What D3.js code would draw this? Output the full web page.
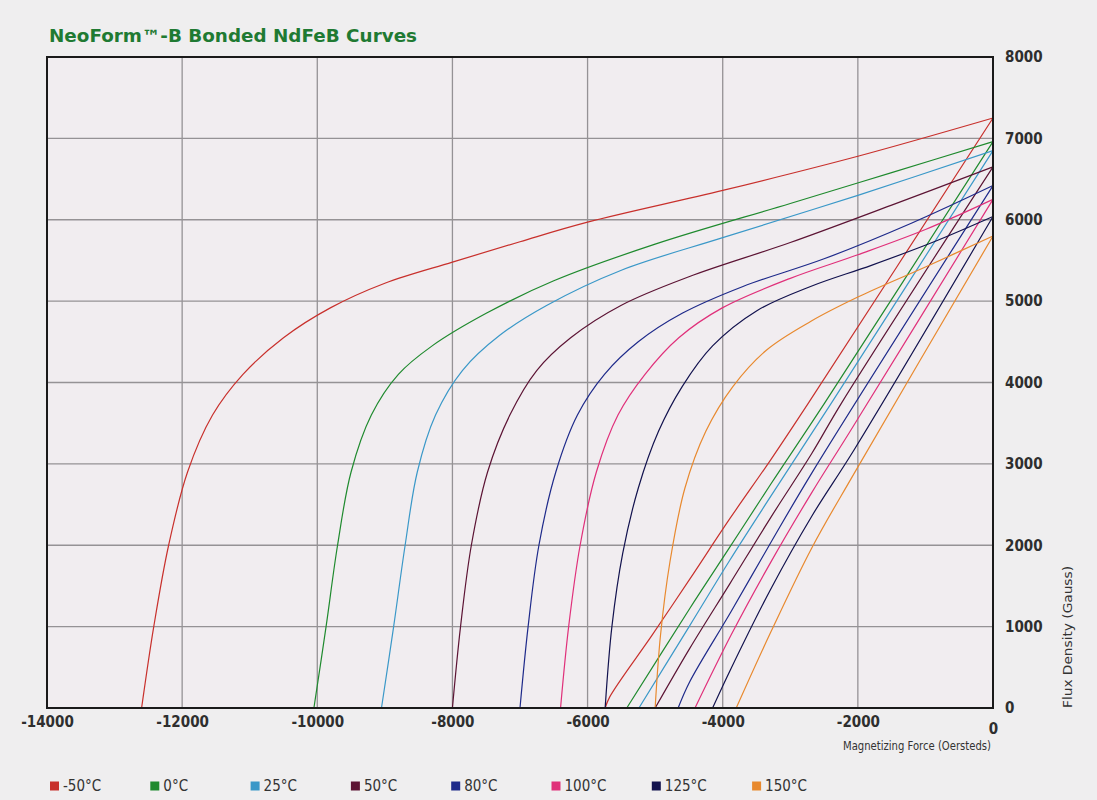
<!DOCTYPE html>
<html>
<head>
<meta charset="utf-8">
<script src="https://cdn.jsdelivr.net/npm/d3@7/dist/d3.min.js"></script>
<style>
  html, body { margin: 0; padding: 0; background: #efeeef; }
  svg { display: block; }
</style>
</head>
<body>
<div id="chart"></div>
<script>
// Demagnetization curves.
// Each temperature has an intrinsic (knee) curve and a normal (near-linear) curve,
// both given as [H (Oe), B (G)] pairs.

const temps = ['-50°C', '0°C', '25°C', '50°C', '80°C', '100°C', '125°C', '150°C'];
const colors = ['#c8302c', '#1f8a2e', '#3a98c8', '#5c1434', '#1e2a8a', '#e0307a', '#12124e', '#e8892e'];

const xTicks = [-14000, -12000, -10000, -8000, -6000, -4000, -2000, 0];
const yTicks = [0, 1000, 2000, 3000, 4000, 5000, 6000, 7000, 8000];

// intrinsic curves
const intrinsicM50 = [[-12600, 0], [-12420, 1000], [-12200, 2000], [-11920, 2900], [-11550, 3600], [-11100, 4100],
  [-10500, 4550], [-9800, 4920], [-9000, 5220], [-8000, 5480], [-7000, 5730], [-6000, 5970], [-4000, 6360],
  [-2000, 6780], [0, 7250]];
const intrinsic0 = [[-10050, 0], [-9870, 1000], [-9700, 2000], [-9500, 2900], [-9200, 3600], [-8800, 4100],
  [-8300, 4450], [-7500, 4850], [-6500, 5250], [-5000, 5700], [-3000, 6200], [-1500, 6580], [0, 6960]];
const intrinsic25 = [[-9050, 0], [-8870, 1000], [-8700, 2000], [-8520, 2900], [-8250, 3600], [-7850, 4150],
  [-7300, 4580], [-6600, 4950], [-5500, 5380], [-4000, 5780], [-2000, 6300], [0, 6850]];
const intrinsic50 = [[-8000, 0], [-7880, 1000], [-7720, 2000], [-7480, 2900], [-7150, 3600], [-6750, 4150],
  [-6250, 4550], [-5500, 4950], [-4500, 5300], [-3000, 5720], [-1500, 6180], [0, 6650]];
const intrinsic80 = [[-7000, 0], [-6880, 1000], [-6720, 2000], [-6470, 2900], [-6150, 3600], [-5750, 4100],
  [-5250, 4500], [-4600, 4850], [-3700, 5180], [-2500, 5520], [-1200, 5960], [0, 6420]];
const intrinsic100 = [[-6400, 0], [-6280, 1000], [-6110, 2000], [-5870, 2900], [-5550, 3600], [-5150, 4100],
  [-4650, 4550], [-4000, 4920], [-3000, 5280], [-2000, 5570], [-1000, 5880], [0, 6250]];
const intrinsic125 = [[-5740, 0], [-5640, 1000], [-5480, 1900], [-5250, 2700], [-4950, 3400], [-4600, 3950],
  [-4150, 4450], [-3500, 4880], [-2700, 5180], [-1800, 5440], [-900, 5720], [0, 6040]];
const intrinsic150 = [[-5000, 0], [-4920, 900], [-4780, 1800], [-4560, 2700], [-4250, 3400], [-3850, 3950],
  [-3350, 4400], [-2700, 4750], [-2000, 5050], [-1000, 5420], [0, 5800]];

// normal curves
const normalM50 = [[-5740, 0], [-5670, 140], [-5050, 890], [-4490, 1580], [-3900, 2320], [-3290, 3050], [-2730, 3750], [0, 7250]];
const normal0 = [[-5420, 0], [-4490, 1220], [-3900, 1970], [-3290, 2750], [-2490, 3750], [0, 6960]];
const normal25 = [[-5240, 0], [-4490, 1010], [-3900, 1810], [-3290, 2600], [-2390, 3750], [0, 6850]];
const normal50 = [[-5000, 0], [-4490, 730], [-3900, 1520], [-3290, 2340], [-2680, 3130], [-2240, 3750], [0, 6650]];
const normal80 = [[-4660, 0], [-4490, 320], [-3880, 1180], [-3290, 2030], [-2680, 2890], [0, 6420]];
const normal100 = [[-4410, 0], [-3880, 890], [-3290, 1790], [-2680, 2650], [-2100, 3420], [0, 6250]];
const normal125 = [[-4150, 0], [-3880, 480], [-3290, 1460], [-2680, 2360], [-2050, 3180], [0, 6040]];
const normal150 = [[-3800, 0], [-3290, 930], [-2680, 1970], [-2050, 2890], [0, 5800]];

const intrinsicCurves = [intrinsicM50, intrinsic0, intrinsic25, intrinsic50, intrinsic80, intrinsic100, intrinsic125, intrinsic150];
const normalCurves = [normalM50, normal0, normal25, normal50, normal80, normal100, normal125, normal150];

const W = 1097, H = 800;
const margin = { left: 47, right: 1097 - 993, top: 57, bottom: 800 - 708 };

const svg = d3.select('#chart').append('svg')
  .attr('width', W).attr('height', H);

const x = d3.scaleLinear().domain([-14000, 0]).range([margin.left, W - margin.right]);
const y = d3.scaleLinear().domain([0, 8000]).range([H - margin.bottom, margin.top]);

// plot background
svg.append('rect')
  .attr('x', x(-14000)).attr('y', y(8000))
  .attr('width', x(0) - x(-14000)).attr('height', y(0) - y(8000))
  .attr('fill', '#f1edf0');

// gridlines
const grid = svg.append('g').attr('class', 'grid');
grid.selectAll('line.v').data(xTicks.slice(1, -1)).enter().append('line')
  .attr('x1', (d) => x(d)).attr('x2', (d) => x(d))
  .attr('y1', y(8000)).attr('y2', y(0))
  .attr('stroke', '#959295').attr('stroke-width', 1.3);
grid.selectAll('line.h').data(yTicks.slice(1, -1)).enter().append('line')
  .attr('y1', (d) => y(d)).attr('y2', (d) => y(d))
  .attr('x1', x(-14000)).attr('x2', x(0))
  .attr('stroke', '#959295').attr('stroke-width', 1.3);

// curves
const line = d3.line()
  .x((d) => x(d[0]))
  .y((d) => y(d[1]))
  .curve(d3.curveCatmullRom.alpha(0.5));

const curvesG = svg.append('g').attr('class', 'curves');
normalCurves.forEach((pts, i) => {
  curvesG.append('path').attr('d', line(pts))
    .attr('fill', 'none').attr('stroke', colors[i]).attr('stroke-width', 1.2);
});
intrinsicCurves.forEach((pts, i) => {
  curvesG.append('path').attr('d', line(pts))
    .attr('fill', 'none').attr('stroke', colors[i]).attr('stroke-width', 1.2);
});

// frame
svg.append('rect')
  .attr('x', x(-14000)).attr('y', y(8000))
  .attr('width', x(0) - x(-14000)).attr('height', y(0) - y(8000))
  .attr('fill', 'none').attr('stroke', '#1a1a1a').attr('stroke-width', 2);

// axes (text only, the frame carries the lines)
const tickFont = '"DejaVu Sans Condensed", "DejaVu Sans", sans-serif';
const fmt = (d) => String(d);   // plain hyphen, like the original
const xAxis = d3.axisBottom(x).tickValues(xTicks).tickSize(0).tickPadding(8).tickFormat(fmt);
const xg = svg.append('g').attr('transform', `translate(0,${y(0)})`).call(xAxis);
xg.select('.domain').remove();
xg.selectAll('text')
  .attr('font-family', tickFont).attr('font-size', 15).attr('font-weight', 'bold').attr('fill', '#2e2e2e');
xg.selectAll('.tick').filter((d) => d === 0).select('text').attr('dy', '1.2em');

const yAxis = d3.axisRight(y).tickValues(yTicks).tickSize(0).tickPadding(12).tickFormat(fmt);
const yg = svg.append('g').attr('transform', `translate(${x(0)},0)`).call(yAxis);
yg.select('.domain').remove();
yg.selectAll('text')
  .attr('font-family', tickFont).attr('font-size', 15).attr('font-weight', 'bold').attr('fill', '#2e2e2e');

// axis titles
svg.append('text')
  .attr('x', x(0) - 2).attr('y', 750)
  .attr('text-anchor', 'end')
  .attr('font-family', tickFont).attr('font-size', 12).attr('fill', '#333')
  .attr('textLength', 148).attr('lengthAdjust', 'spacingAndGlyphs')
  .text('Magnetizing Force (Oersteds)');

svg.append('text')
  .attr('transform', `translate(1072,637) rotate(-90)`)
  .attr('text-anchor', 'middle')
  .attr('font-family', tickFont).attr('font-size', 12).attr('fill', '#333')
  .attr('textLength', 142).attr('lengthAdjust', 'spacingAndGlyphs')
  .text('Flux Density (Gauss)');

// title
svg.append('text')
  .attr('x', 49).attr('y', 42)
  .attr('font-family', '"DejaVu Sans", sans-serif').attr('font-size', 17).attr('font-weight', 'bold')
  .attr('fill', '#1f7a33')
  .attr('textLength', 368).attr('lengthAdjust', 'spacingAndGlyphs')
  .text('NeoForm™-B Bonded NdFeB Curves');

// legend
const legend = svg.append('g').attr('class', 'legend');
const item = legend.selectAll('g').data(temps).enter().append('g')
  .attr('transform', (d, i) => `translate(${50 + i * 100.3},786)`);
item.append('rect')
  .attr('x', 0).attr('y', -4.5).attr('width', 9).attr('height', 9)
  .attr('fill', (d, i) => colors[i]);
item.append('text')
  .attr('x', 13).attr('y', 0).attr('dy', '0.36em')
  .attr('font-family', tickFont).attr('font-size', 15).attr('fill', '#333')
  .text((d) => d);
</script>
</body>
</html>
